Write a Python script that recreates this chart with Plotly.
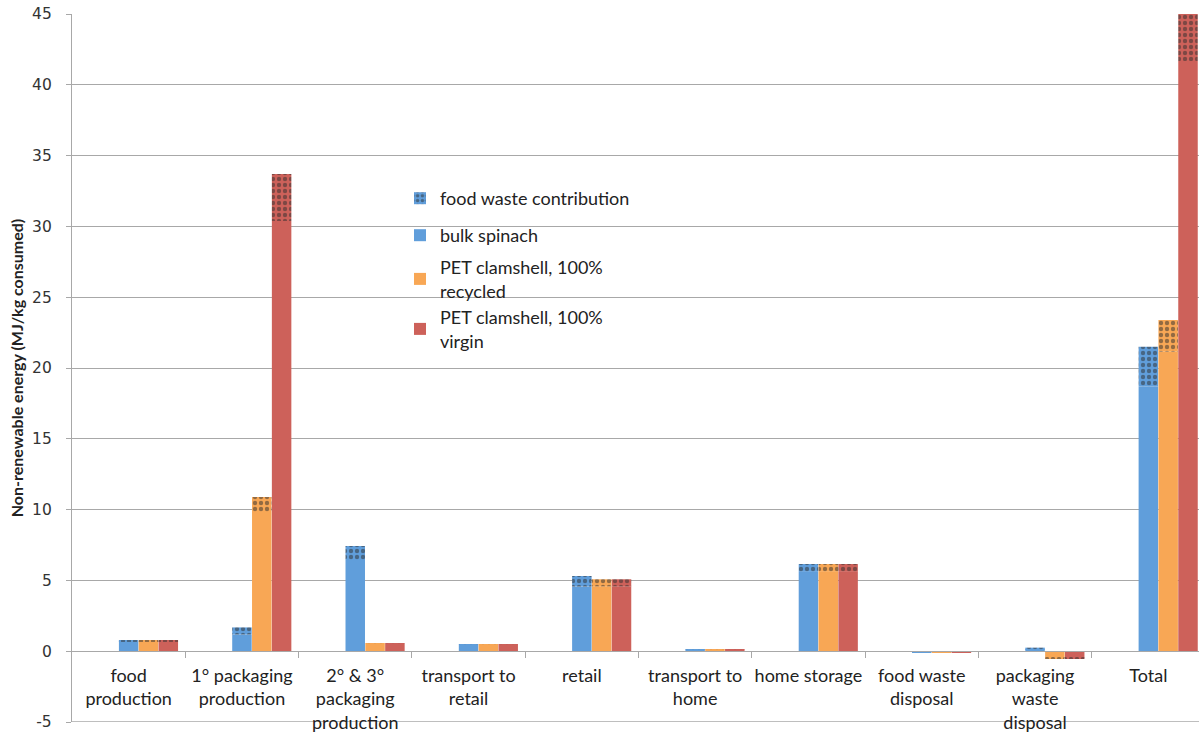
import plotly.graph_objects as go

# Life-cycle stages on the category axis
categories = [
    "food<br>production",
    "1° packaging<br>production",
    "2° & 3°<br>packaging<br>production",
    "transport to<br>retail",
    "retail",
    "transport to<br>home",
    "home storage",
    "food waste<br>disposal",
    "packaging<br>waste<br>disposal",
    "Total",
]

# Non-renewable energy (MJ/kg consumed): part without food waste, plus the food-waste share
bulk_base = [0.70, 1.18, 6.44, 0.45, 4.56, 0.11, 5.60, -0.09, 0.15, 18.68]
bulk_waste = [0.05, 0.50, 0.99, 0.04, 0.75, 0.02, 0.56, 0.00, 0.10, 2.82]

recycled_base = [0.70, 9.83, 0.51, 0.45, 4.58, 0.11, 5.60, -0.09, -0.45, 21.15]
recycled_waste = [0.05, 1.06, 0.05, 0.04, 0.50, 0.02, 0.56, 0.00, -0.05, 2.24]

virgin_base = [0.70, 30.38, 0.51, 0.45, 4.58, 0.11, 5.60, -0.09, -0.45, 41.68]
virgin_waste = [0.05, 3.32, 0.05, 0.04, 0.50, 0.02, 0.56, 0.00, -0.05, 4.62]

# y-axis ticks (plain hyphen for the negative label)
y_ticks = [-5, 0, 5, 10, 15, 20, 25, 30, 35, 40, 45]
y_tick_text = ["-5", "0", "5", "10", "15", "20", "25", "30", "35", "40", "45"]

series = [
    ("bulk spinach", "#609EDB", bulk_base, bulk_waste, 0.0, "legend2"),
    ("PET clamshell, 100%<br>recycled", "#F8A755", recycled_base, recycled_waste, 0.175, "legend3"),
    ("PET clamshell, 100%<br>virgin", "#CD615A", virgin_base, virgin_waste, 0.35, "legend4"),
]

BAR_W = 0.172
positions = list(range(len(categories)))

fig = go.Figure()

for rank, (name, color, base_vals, waste_vals, offset, leg) in enumerate(series):
    xs = [p + offset for p in positions]
    fig.add_trace(go.Bar(
        x=xs, y=base_vals, width=BAR_W, name=name,
        marker=dict(color=color, line=dict(width=0)),
        legend=leg,
    ))
    fig.add_trace(go.Bar(
        x=xs, y=waste_vals, width=BAR_W, name="food waste contribution",
        marker=dict(
            color=color, line=dict(width=0),
            pattern=dict(shape=".", size=6, solidity=0.42,
                         fgcolor="#2e2e2e", fillmode="overlay"),
        ),
        showlegend=(rank == 0), legend="legend",
    ))

grid_col = "#A8A8A8"

# bottom border line at the lower end of the value axis
fig.add_shape(type="line", xref="paper", yref="y", x0=0, x1=1, y0=-5, y1=-5,
              line=dict(color=grid_col, width=1.3), layer="below")


def legend_box(top_px):
    return dict(
        x=(400 - 72) / 1127, xanchor="left",
        y=1 - (top_px - 14) / 708, yanchor="top",
        bgcolor="rgba(0,0,0,0)",
        font=dict(family="Lato, sans-serif", size=18, color="#222"),
    )


fig.update_layout(
    width=1199, height=736,
    margin=dict(l=72, r=0, t=14, b=14),
    paper_bgcolor="white", plot_bgcolor="white",
    barmode="relative",
    font=dict(family="Lato, Calibri, sans-serif", size=16, color="#222"),
    legend=legend_box(180),
    legend2=legend_box(217),
    legend3=legend_box(249),
    legend4=legend_box(299),
    showlegend=True,
)

fig.update_yaxes(
    range=[-5, 45], tickmode="array", tickvals=y_ticks, ticktext=y_tick_text,
    showgrid=True, gridcolor=grid_col, gridwidth=1.3,
    showline=True, linecolor=grid_col, linewidth=1.3,
    ticks="outside", ticklen=5, tickcolor=grid_col, tickwidth=1.3,
    zeroline=False, ticklabelstandoff=11,
    tickfont=dict(family="DejaVu Sans", size=15.5, color="#333"),
    title=dict(text="<b>Non-renewable energy (MJ/kg consumed)</b>",
               font=dict(family="Lato, sans-serif", size=16, color="#222"),
               standoff=4),
)

fig.update_xaxes(
    range=[-0.5, -0.5 + 1127 / 113.3],
    anchor="free", position=0.1,
    showgrid=False, zeroline=False,
    showline=True, linecolor=grid_col, linewidth=1.3,
    tickmode="array", tickvals=positions, ticktext=categories,
    ticks="", ticklabelstandoff=8,
    tickfont=dict(family="Lato, sans-serif", size=18, color="#222"),
    minor=dict(tickmode="array", tickvals=[p + 0.5 for p in positions[:-1]],
               ticks="outside", ticklen=6, tickcolor=grid_col, tickwidth=1.3),
)

fig.write_html("out.html")
